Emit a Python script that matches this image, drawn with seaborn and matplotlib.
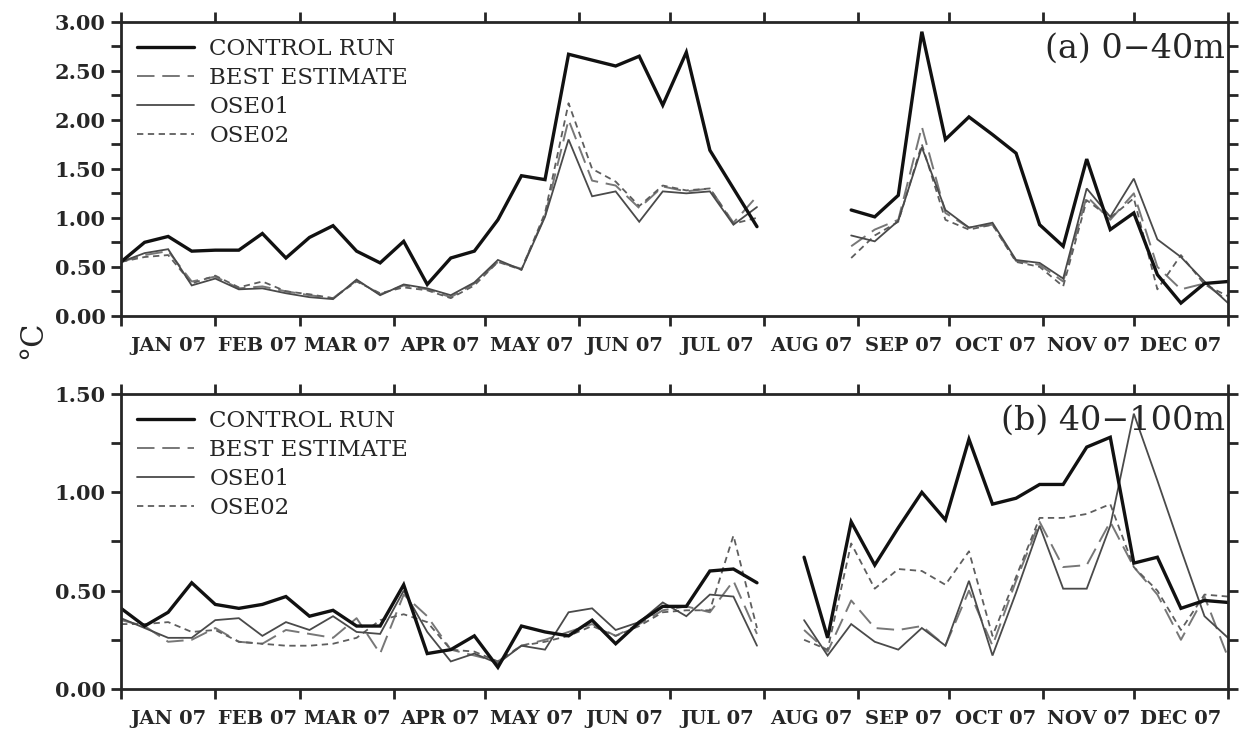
import numpy as np
import pandas as pd
import matplotlib
matplotlib.use("Agg")
import matplotlib.pyplot as plt
from matplotlib.lines import Line2D
from matplotlib.ticker import MultipleLocator, FixedLocator, NullFormatter, FixedFormatter
import seaborn as sns

nan = np.nan

# ---------------- data ----------------
months = ["JAN", "FEB", "MAR", "APR", "MAY", "JUN", "JUL", "AUG", "SEP", "OCT", "NOV", "DEC"]
month_days = [31, 28, 31, 30, 31, 30, 31, 31, 30, 31, 30, 31]
year_label = "07"
n_points = 48          # four samples per month over 2007

series_names = ["CONTROL RUN", "BEST ESTIMATE", "OSE01", "OSE02"]

ctrl_a = [0.55, 0.75, 0.81, 0.66, 0.67, 0.67, 0.84, 0.59, 0.80, 0.92, 0.66, 0.54, 0.76, 0.32,
          0.59, 0.66, 0.98, 1.43, 1.39, 2.67, 2.61, 2.55, 2.65, 2.15, 2.69, 1.69, 1.30, 0.91,
          nan, nan, nan,
          1.08, 1.01, 1.23, 2.90, 1.80, 2.03, 1.85, 1.66, 0.93, 0.71, 1.60, 0.88, 1.05, 0.42,
          0.13, 0.33, 0.35]
be_a = [0.55, 0.62, 0.66, 0.35, 0.40, 0.28, 0.30, 0.25, 0.21, 0.18, 0.36, 0.22, 0.31, 0.27,
        0.19, 0.33, 0.55, 0.48, 1.02, 2.00, 1.38, 1.33, 1.10, 1.32, 1.27, 1.30, 0.95, 1.22,
        nan, nan, nan,
        0.71, 0.88, 0.98, 1.93, 1.05, 0.90, 0.93, 0.56, 0.52, 0.35, 1.22, 0.98, 1.25, 0.50,
        0.27, 0.33, 0.15]
ose01_a = [0.55, 0.64, 0.68, 0.31, 0.38, 0.27, 0.28, 0.23, 0.19, 0.17, 0.37, 0.21, 0.32, 0.28,
           0.21, 0.34, 0.57, 0.47, 1.01, 1.80, 1.22, 1.27, 0.96, 1.27, 1.25, 1.27, 0.93, 1.11,
           nan, nan, nan,
           0.82, 0.76, 0.97, 1.72, 1.08, 0.90, 0.95, 0.57, 0.54, 0.38, 1.30, 1.01, 1.40, 0.78,
           0.60, 0.35, 0.13]
ose02_a = [0.55, 0.60, 0.62, 0.33, 0.41, 0.29, 0.35, 0.25, 0.22, 0.18, 0.35, 0.23, 0.29, 0.26,
           0.18, 0.31, 0.55, 0.47, 1.05, 2.17, 1.50, 1.37, 1.12, 1.33, 1.28, 1.30, 0.94, 1.00,
           nan, nan, nan,
           0.59, 0.82, 0.96, 1.75, 0.98, 0.88, 0.93, 0.55, 0.50, 0.30, 1.18, 1.00, 1.20, 0.27,
           0.62, 0.32, 0.20]

ctrl_b = [0.41, 0.32, 0.39, 0.54, 0.43, 0.41, 0.43, 0.47, 0.37, 0.40, 0.32, 0.32, 0.53, 0.18,
          0.20, 0.27, 0.11, 0.32, 0.29, 0.27, 0.35, 0.23, 0.34, 0.42, 0.42, 0.60, 0.61, 0.54,
          nan,
          0.67, 0.26, 0.85, 0.63, 0.82, 1.00, 0.86, 1.27, 0.94, 0.97, 1.04, 1.04, 1.23, 1.28,
          0.64, 0.67, 0.41, 0.45, 0.44]
be_b = [0.35, 0.32, 0.24, 0.25, 0.31, 0.24, 0.23, 0.30, 0.28, 0.26, 0.36, 0.18, 0.48, 0.37,
        0.20, 0.17, 0.14, 0.22, 0.25, 0.29, 0.33, 0.27, 0.33, 0.40, 0.42, 0.39, 0.55, 0.28,
        nan,
        0.30, 0.19, 0.45, 0.31, 0.30, 0.32, 0.22, 0.50, 0.22, 0.55, 0.85, 0.62, 0.63, 0.85,
        0.62, 0.48, 0.25, 0.47, 0.16]
ose01_b = [0.36, 0.31, 0.26, 0.26, 0.35, 0.36, 0.27, 0.34, 0.30, 0.37, 0.29, 0.28, 0.50, 0.29,
           0.14, 0.18, 0.13, 0.22, 0.20, 0.39, 0.41, 0.30, 0.34, 0.44, 0.37, 0.48, 0.47, 0.22,
           nan,
           0.35, 0.17, 0.33, 0.24, 0.20, 0.31, 0.22, 0.55, 0.17, 0.49, 0.83, 0.51, 0.51, 0.83,
           1.40, 1.06, 0.71, 0.37, 0.26]
ose02_b = [0.33, 0.33, 0.34, 0.29, 0.30, 0.24, 0.23, 0.22, 0.22, 0.23, 0.26, 0.35, 0.38, 0.34,
           0.20, 0.19, 0.14, 0.22, 0.24, 0.27, 0.32, 0.27, 0.32, 0.39, 0.40, 0.40, 0.78, 0.31,
           nan,
           0.25, 0.20, 0.74, 0.51, 0.61, 0.60, 0.53, 0.70, 0.27, 0.57, 0.87, 0.87, 0.89, 0.94,
           0.62, 0.50, 0.30, 0.48, 0.47]

panel_titles = ["(a) 0\u221240m", "(b) 40\u2212100m"]
y_max = [3.0, 1.5]
y_label = "\u00b0C"

# ---------------- style ----------------
sns.set_theme(style="ticks")
plt.rcParams["font.family"] = ["DejaVu Serif"]
plt.rcParams["axes.linewidth"] = 2.0

year_days = sum(month_days)
day = np.arange(n_points) * year_days / (n_points - 1)
month_edges = np.concatenate([[0], np.cumsum(month_days)])
month_mid = (month_edges[:-1] + month_edges[1:]) / 2
xlabels = [f"{m} {year_label}" for m in months]

styles = {
    "CONTROL RUN": dict(color="#111111", lw=2.4, dashes=None),
    "BEST ESTIMATE": dict(color="#777777", lw=1.4, dashes=(9, 4)),
    "OSE01": dict(color="#4a4a4a", lw=1.3, dashes=None),
    "OSE02": dict(color="#5e5e5e", lw=1.3, dashes=(3.5, 2.5)),
}

fig = plt.figure(figsize=(12.48, 7.31), dpi=100)
ax_a = fig.add_axes([0.097, 0.568, 0.887, 0.402])
ax_b = fig.add_axes([0.097, 0.0575, 0.887, 0.4035])

panels = [(ax_a, [ctrl_a, be_a, ose01_a, ose02_a]), (ax_b, [ctrl_b, be_b, ose01_b, ose02_b])]

for k, (ax, vals) in enumerate(panels):
    rows = []
    for name, v in zip(series_names, vals):
        arr = np.asarray(v, dtype=float)
        seg = np.cumsum(np.isnan(arr))
        for d, y, s in zip(day, arr, seg):
            if not np.isnan(y):
                rows.append({"day": d, "value": y, "series": name, "seg": s})
    df = pd.DataFrame(rows)
    # draw OSE lines first, control on top
    for name in ["BEST ESTIMATE", "OSE02", "OSE01", "CONTROL RUN"]:
        st = styles[name]
        sub = df[df["series"] == name]
        for s, g in sub.groupby("seg"):
            line_kw = dict(color=st["color"], lw=st["lw"])
            ln = sns.lineplot(data=g, x="day", y="value", ax=ax, legend=False, **line_kw)
            if st["dashes"] is not None:
                ln.lines[-1].set_dashes(st["dashes"])
            ln.lines[-1].set_solid_joinstyle("miter")

    ax.set_xlim(0, year_days)
    ax.set_ylim(0, y_max[k])
    ax.set_xlabel("")
    ax.set_ylabel("")
    ax.xaxis.set_major_locator(FixedLocator(month_edges))
    ax.xaxis.set_major_formatter(NullFormatter())
    ax.xaxis.set_minor_locator(FixedLocator(month_mid))
    ax.xaxis.set_minor_formatter(FixedFormatter(xlabels))
    ax.tick_params(axis="x", which="minor", length=0, pad=15, labelsize=14)
    ax.tick_params(axis="x", which="major", length=7, width=2, direction="out", top=True)
    ax.yaxis.set_major_locator(MultipleLocator(0.5))
    ax.yaxis.set_minor_locator(MultipleLocator(0.25))
    ax.yaxis.set_major_formatter(matplotlib.ticker.FormatStrFormatter("%.2f"))
    ax.tick_params(axis="y", which="both", length=7, width=2, direction="out", right=True,
                   labelsize=15, pad=4)
    for lab in ax.get_xticklabels(minor=True) + ax.get_yticklabels():
        lab.set_fontweight("bold")
    for sp in ax.spines.values():
        sp.set_visible(True)
        sp.set_linewidth(2.0)

    handles = []
    for name in series_names:
        st = styles[name]
        h = Line2D([0], [0], color=st["color"], lw=st["lw"])
        if st["dashes"] is not None:
            h.set_dashes(st["dashes"])
        handles.append(h)
    ax.legend(handles, series_names, loc="upper left", bbox_to_anchor=(0.0, 1.0),
              frameon=False, fontsize=16.5, handlelength=2.5, handletextpad=0.65,
              labelspacing=0.3, borderaxespad=0.3, borderpad=0.4)
    ax.text(0.997, 0.91, panel_titles[k], transform=ax.transAxes, ha="right", va="center",
            fontsize=24)

fig.text(0.026, 0.535, y_label, rotation=90, ha="center", va="center", fontsize=22)

fig.savefig("out.png", dpi=100)
